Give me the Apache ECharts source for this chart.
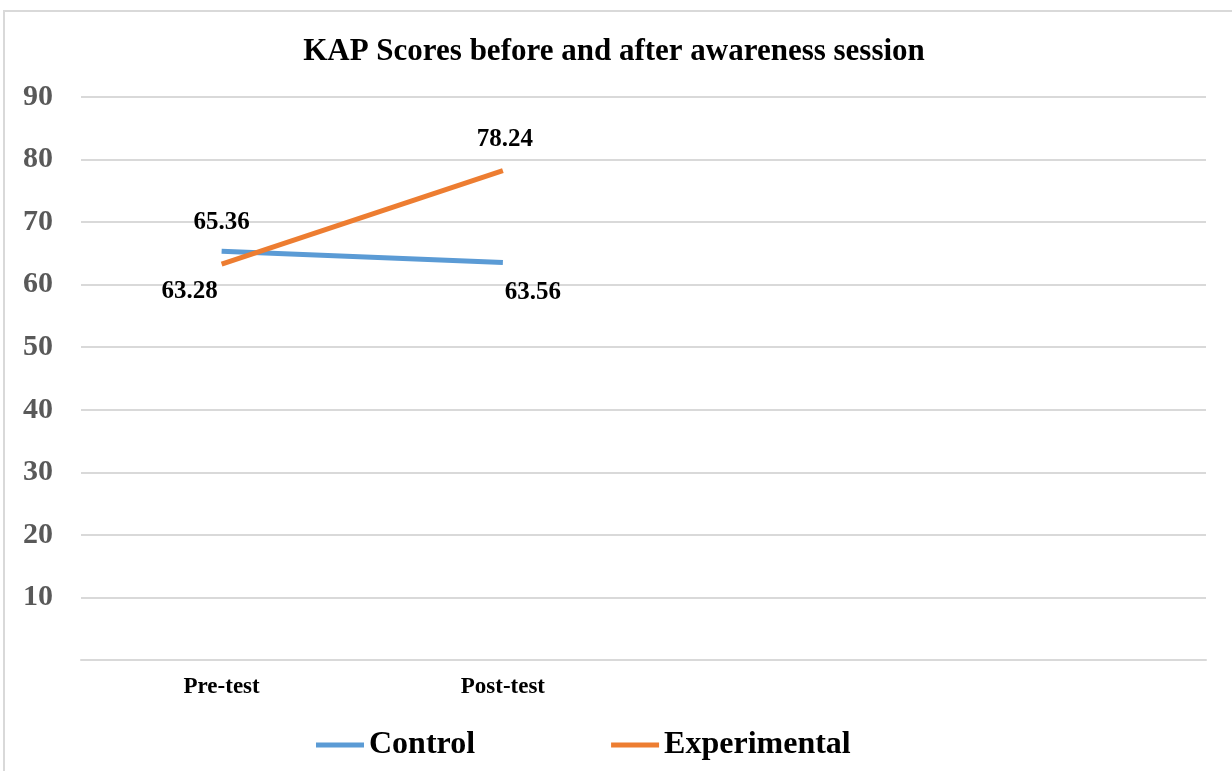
<!DOCTYPE html>
<html>
<head>
    <meta charset="utf-8">
    <title>KAP Scores</title>
    <script src="https://cdn.jsdelivr.net/npm/echarts@6/dist/echarts.min.js"></script>
    <style>
        html, body { margin: 0; padding: 0; background: #fff; overflow: hidden; }
        #frame { position: absolute; left: 3px; top: 10px; width: 1240px; height: 780px;
                 border-left: 2px solid #d9d9d9; border-top: 2px solid #d9d9d9; }
        #echarts { position: absolute; left: 0; top: 0; width: 1232px; height: 771px; }
    </style>
</head>
<body>
<div id="frame"></div>
<div id="echarts"></div>
<script>
    var categories = ['Pre-test', 'Post-test', '', ''];
    var controlData = [65.36, 63.56];
    var experimentalData = [63.28, 78.24];
    var serif = '"Liberation Serif", "Times New Roman", serif';

    // label offsets from each point (px)
    var controlOffsets = [[0, -29], [30, 30]];
    var experimentalOffsets = [[-32, 27], [2, -31]];

    var myChart = echarts.init(document.getElementById('echarts'));
    var labelStyle = {
        show: true, position: 'inside',
        fontFamily: serif, fontWeight: 'bold', fontSize: 25, color: '#000',
        formatter: function (p) { return p.value.toFixed(2); }
    };
    var option = {
        title: {
            text: 'KAP Scores before and after awareness session',
            left: 609, top: 31, textAlign: 'center',
            textStyle: { fontFamily: serif, fontWeight: 'bold', fontSize: 31, color: '#000' }
        },
        legend: {
            left: 311, top: 724, itemWidth: 48, itemHeight: 5, itemGap: 136, icon: 'rect',
            textStyle: { fontFamily: serif, fontWeight: 'bold', fontSize: 32, color: '#000', padding: [4, 0, 0, 0] },
            data: ['Control', 'Experimental']
        },
        grid: { left: 81, right: 26, top: 97, bottom: 111 },
        xAxis: {
            type: 'category',
            data: categories,
            boundaryGap: true,
            axisLine: { show: true, lineStyle: { color: '#d9d9d9', width: 2 } },
            axisTick: { show: false },
            axisLabel: { margin: 16, fontFamily: serif, fontWeight: 'bold', fontSize: 23, color: '#000' }
        },
        yAxis: {
            type: 'value', min: 0, max: 90, interval: 10,
            axisLine: { show: false },
            axisTick: { show: false },
            splitLine: { lineStyle: { color: '#d9d9d9', width: 2 } },
            axisLabel: {
                margin: 28, showMinLabel: false,
                fontFamily: serif, fontWeight: 'bold', fontSize: 30, color: '#595959'
            }
        },
        series: [{
            name: 'Control', type: 'line', data: controlData,
            symbol: 'circle', symbolSize: 0.1, color: '#5b9bd5',
            lineStyle: { width: 5, color: '#5b9bd5' },
            label: labelStyle,
            labelLayout: function (p) {
                var o = controlOffsets[p.dataIndex];
                return { dx: o[0], dy: o[1] };
            }
        }, {
            name: 'Experimental', type: 'line', data: experimentalData,
            symbol: 'circle', symbolSize: 0.1, color: '#ed7d31',
            lineStyle: { width: 5, color: '#ed7d31' },
            label: labelStyle,
            labelLayout: function (p) {
                var o = experimentalOffsets[p.dataIndex];
                return { dx: o[0], dy: o[1] };
            }
        }]
    };
    myChart.setOption(option);
</script>
</body>
</html>
